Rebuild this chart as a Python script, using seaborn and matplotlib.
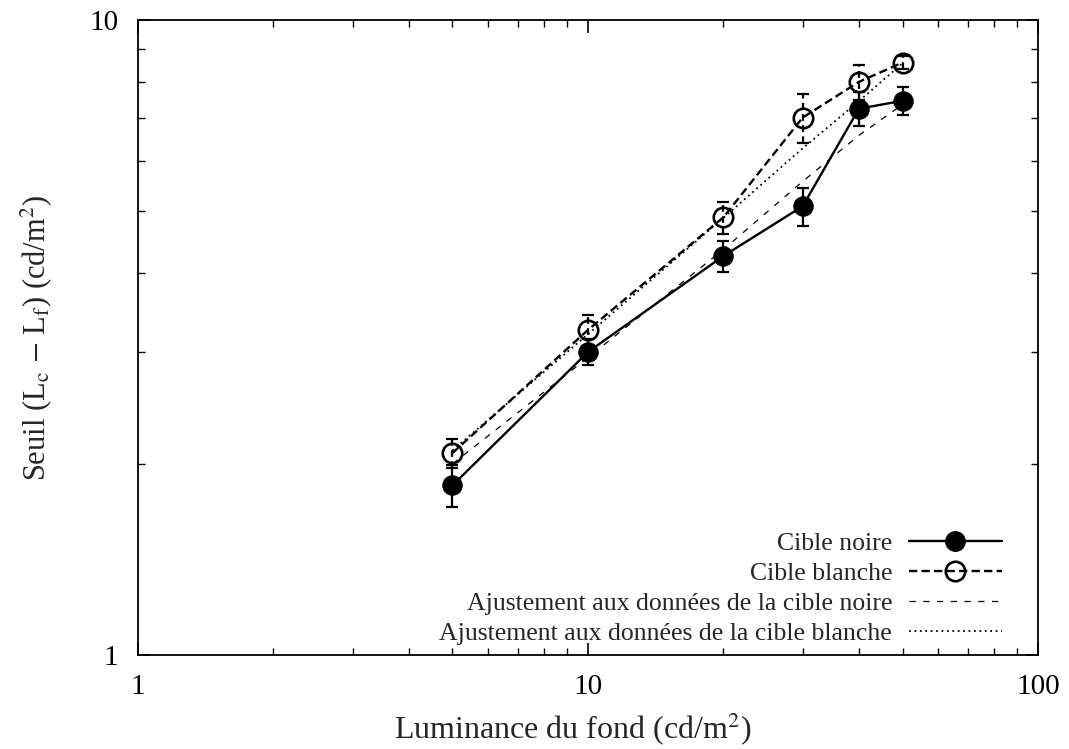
import matplotlib
matplotlib.use("Agg")
import matplotlib.pyplot as plt
import seaborn as sns
import pandas as pd
import numpy as np
from matplotlib.lines import Line2D
from matplotlib.ticker import LogLocator, NullFormatter, FixedLocator, FixedFormatter

# ---- data ----
luminance = [5, 10, 20, 30, 40, 50]
noire = [1.85, 3.00, 4.25, 5.09, 7.25, 7.46]
noire_err = [0.14, 0.14, 0.24, 0.35, 0.45, 0.38]
blanche = [2.08, 3.25, 4.89, 7.02, 7.99, 8.57]
blanche_err = [0.11, 0.18, 0.28, 0.62, 0.50, 0.20]
fit_noire = [2.00, 2.94, 4.35, 5.57, 6.58, 7.36]
fit_blanche = [2.10, 3.20, 4.88, 6.28, 7.45, 8.55]

labels = ["Cible noire", "Cible blanche",
          "Ajustement aux données de la cible noire",
          "Ajustement aux données de la cible blanche"]
x_ticks = [1, 10, 100]
x_ticklabels = ["1", "10", "100"]
y_ticks = [1, 10]
y_ticklabels = ["1", "10"]

sns.set_theme(style="ticks")
plt.rcParams['font.family'] = ['Liberation Serif', 'DejaVu Serif']
plt.rcParams['mathtext.fontset'] = 'stix'

fig = plt.figure(figsize=(10.69, 7.49), dpi=100)
ax = fig.add_axes([0.129, 0.1255, 0.842, 0.8478])

df = pd.DataFrame({"x": luminance, "noire": noire, "blanche": blanche,
                   "fit_noire": fit_noire, "fit_blanche": fit_blanche})

# fits
sns.lineplot(data=df, x="x", y="fit_noire", ax=ax, color="black", lw=0.9,
             linestyle=(0, (5, 6)), legend=False)
sns.lineplot(data=df, x="x", y="fit_blanche", ax=ax, color="black", lw=1.3,
             linestyle=(0, (1, 2)), legend=False)

# error bars
eb1 = ax.errorbar(luminance, noire, yerr=noire_err, fmt='none', ecolor='black',
                  elinewidth=1.6, capsize=4, capthick=1.6)
eb2 = ax.errorbar(luminance, blanche, yerr=blanche_err, fmt='none', ecolor='black',
                  elinewidth=1.6, capsize=4, capthick=1.6)
for lc in eb2[2]:
    lc.set_linestyle((0, (3, 2)))

# main series
sns.lineplot(data=df, x="x", y="noire", ax=ax, color="black", lw=1.7,
             marker="o", markersize=14, markerfacecolor="black",
             markeredgecolor="black", legend=False)
sns.lineplot(data=df, x="x", y="blanche", ax=ax, color="black", lw=1.7,
             linestyle=(0, (3.5, 1.8)), marker="o", markersize=14,
             markerfacecolor="none", markeredgecolor="black",
             markeredgewidth=1.9, legend=False)

ax.set_xscale("log")
ax.set_yscale("log")
ax.set_xlim(1, 100)
ax.set_ylim(1, 10)

ax.xaxis.set_major_locator(FixedLocator(x_ticks))
ax.xaxis.set_major_formatter(FixedFormatter(x_ticklabels))
ax.yaxis.set_major_locator(FixedLocator(y_ticks))
ax.yaxis.set_major_formatter(FixedFormatter(y_ticklabels))
ax.xaxis.set_minor_locator(LogLocator(base=10, subs=np.arange(2, 10)))
ax.yaxis.set_minor_locator(LogLocator(base=10, subs=np.arange(2, 10)))
ax.xaxis.set_minor_formatter(NullFormatter())
ax.yaxis.set_minor_formatter(NullFormatter())

ax.tick_params(which="both", direction="in", top=True, right=True,
               colors="black", labelsize=21)
ax.tick_params(axis="x", which="major", length=9, width=1.2, pad=14)
ax.tick_params(axis="y", which="major", length=9, width=1.2, pad=14)
ax.tick_params(which="minor", length=5, width=1.0)
for s in ax.spines.values():
    s.set_linewidth(1.3)
    s.set_color("black")

ax.set_xlabel("Luminance du fond (cd/m$^2$)", fontsize=23)
ax.set_ylabel("Seuil (L$_\\mathrm{c}$ $-$ L$_\\mathrm{f}$) (cd/m$^2$)", fontsize=22)
ax.xaxis.set_label_coords(0.483, -0.088)
ax.yaxis.set_label_coords(-0.093, 0.5)

handles = [
    Line2D([], [], color="black", lw=1.7, marker="o", markersize=14,
           markerfacecolor="black"),
    Line2D([], [], color="black", lw=1.7, linestyle=(0, (3.5, 1.8)), marker="o",
           markersize=14, markerfacecolor="none", markeredgewidth=1.9),
    Line2D([], [], color="black", lw=0.9, linestyle=(0, (5, 6))),
    Line2D([], [], color="black", lw=1.3, linestyle=(0, (1, 2))),
]
leg = ax.legend(handles, labels, loc="lower right", bbox_to_anchor=(0.971, 0.0),
                borderaxespad=0, frameon=False,
                markerfirst=False, numpoints=1, fontsize=18.5, handlelength=3.6,
                handletextpad=0.66, labelspacing=0.27)

fig.savefig("out.png", dpi=100)
